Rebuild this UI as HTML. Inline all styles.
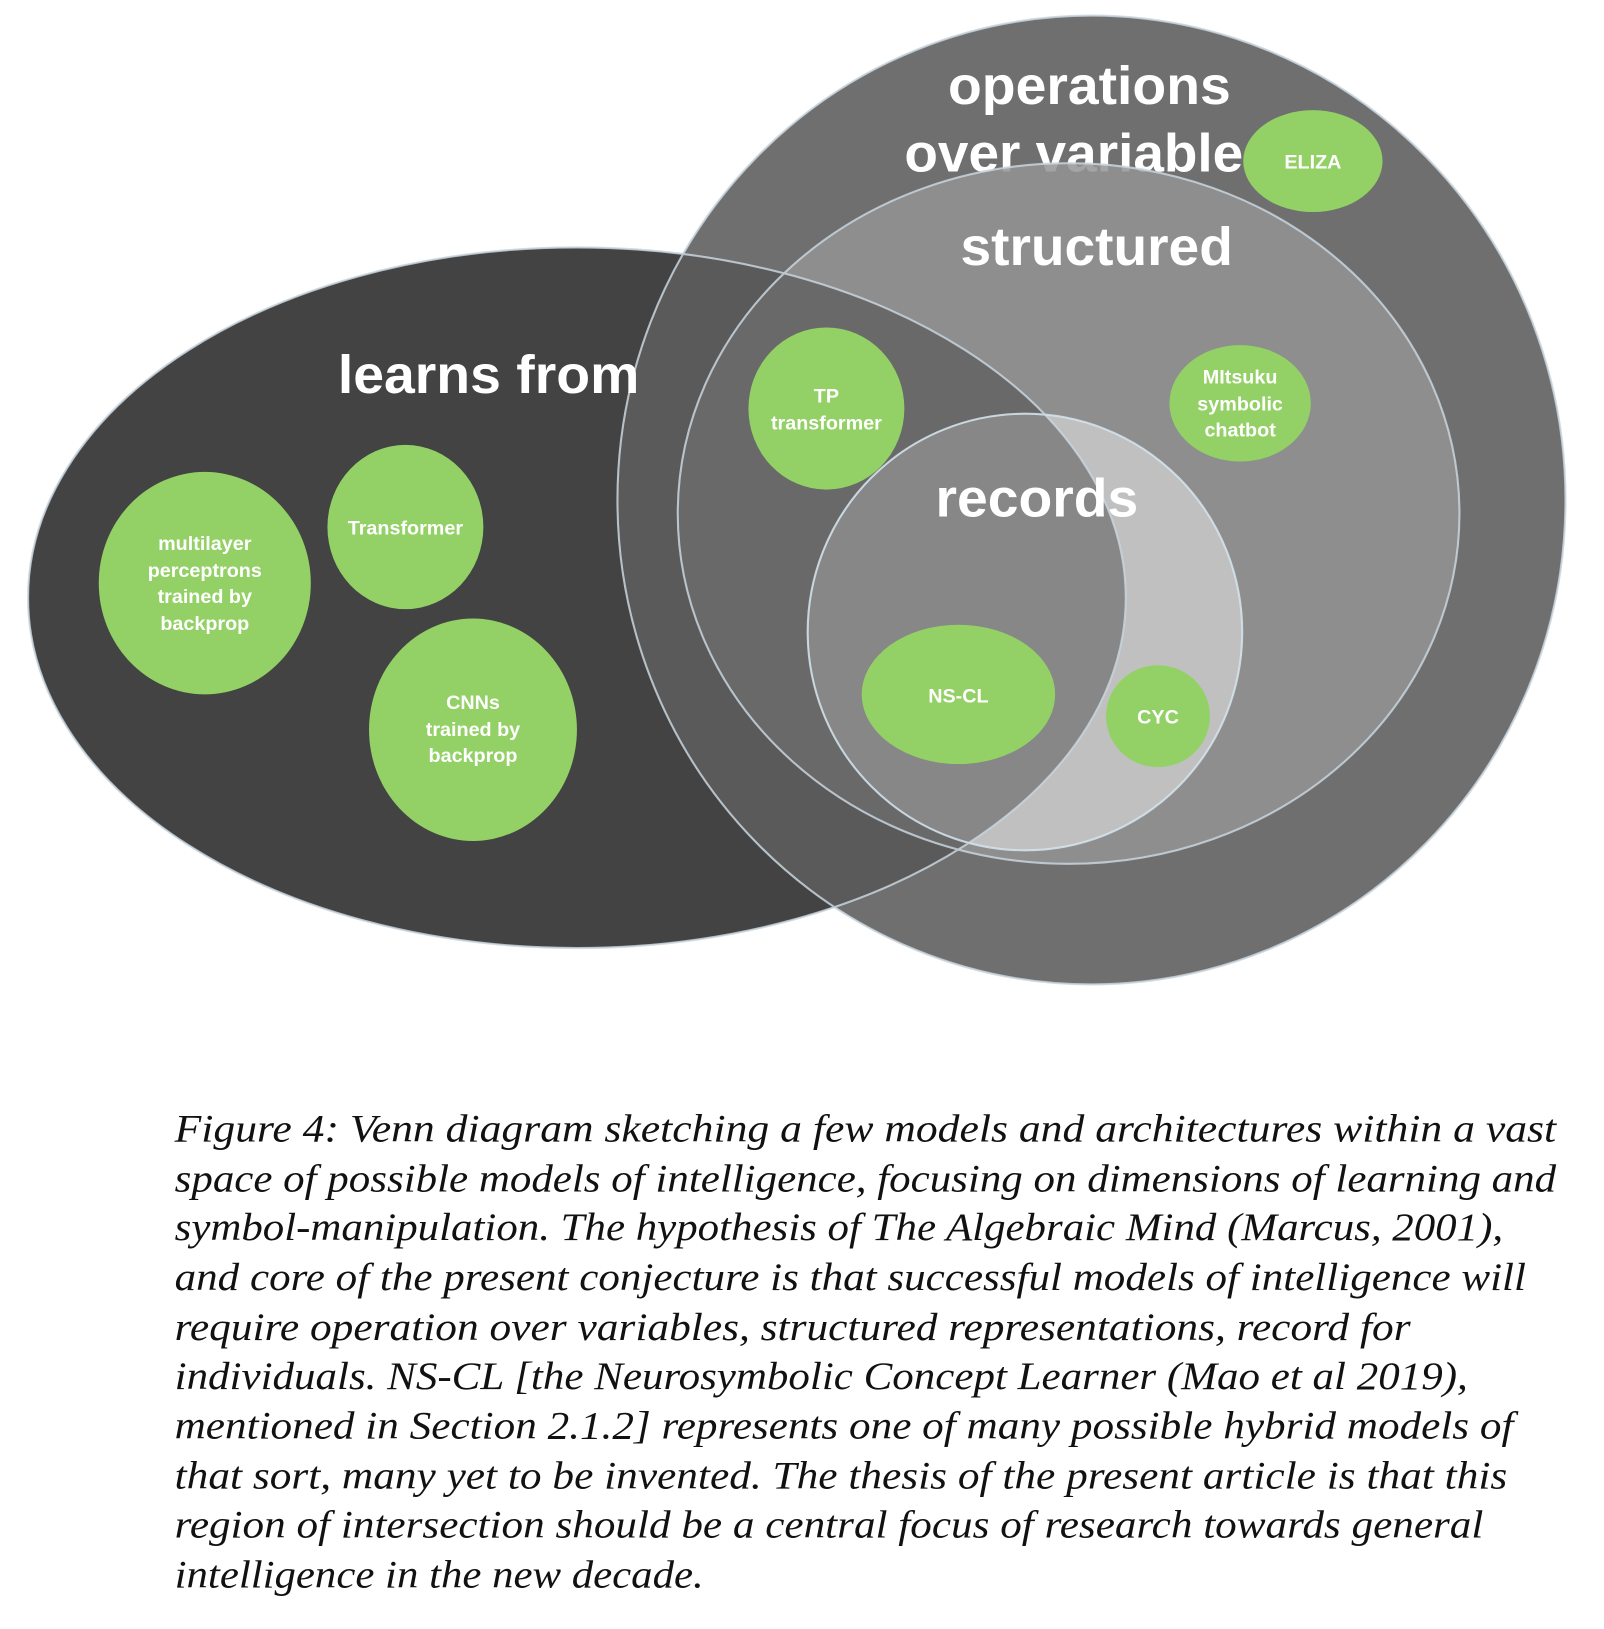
<!DOCTYPE html>
<html><head><meta charset="utf-8"><style>
html,body{margin:0;padding:0;background:#fff;}
svg{display:block;}
.big{font-family:"Liberation Sans",sans-serif;font-weight:bold;fill:#fff;font-size:52px;}
.sm{font-family:"Liberation Sans",sans-serif;font-weight:bold;fill:#fff;font-size:19px;text-anchor:middle;}
.cap{font-family:"Liberation Serif",serif;font-style:italic;fill:#111;font-size:38px;}
</style></head><body>
<svg width="1604" height="1629" viewBox="0 0 1604 1629" xmlns="http://www.w3.org/2000/svg">
<defs>
<clipPath id="L"><ellipse cx="555" cy="575" rx="528" ry="337"/></clipPath>
</defs>
<g transform="scale(1.0395)">
<ellipse cx="555" cy="575" rx="528" ry="337" fill="#434343"/>
<ellipse cx="1050" cy="481" rx="456" ry="466" fill="#6f6f6f"/>
<g clip-path="url(#L)"><ellipse cx="1050" cy="481" rx="456" ry="466" fill="#5a5a5a"/></g>
<text class="big" x="1048" y="100" text-anchor="middle" textLength="272" lengthAdjust="spacingAndGlyphs">operations</text>
<text class="big" x="870" y="165" textLength="326" lengthAdjust="spacingAndGlyphs">over variable</text>
<ellipse cx="1028" cy="494" rx="376" ry="337" fill="#949494" fill-opacity="0.85"/>
<g clip-path="url(#L)"><ellipse cx="1028" cy="494" rx="376" ry="337" fill="#696969"/></g>
<ellipse cx="986" cy="608" rx="209" ry="210" fill="#c0c0c0"/>
<g clip-path="url(#L)"><ellipse cx="986" cy="608" rx="209" ry="210" fill="#878787"/></g>
<g fill="none" stroke="#c9d5de" stroke-width="2" opacity="0.85">
<ellipse cx="555" cy="575" rx="528" ry="337"/>
<ellipse cx="1050" cy="481" rx="456" ry="466"/>
<ellipse cx="1028" cy="494" rx="376" ry="337"/>
<ellipse cx="986" cy="608" rx="209" ry="210" stroke="#d6e6f0"/>
</g>
<text class="big" x="1055" y="255" text-anchor="middle" textLength="262" lengthAdjust="spacingAndGlyphs">structured</text>
<text class="big" x="325" y="378" textLength="290" lengthAdjust="spacingAndGlyphs">learns from</text>
<text class="big" x="900" y="497" textLength="195" lengthAdjust="spacingAndGlyphs">records</text>
<g fill="#93d166">
<ellipse cx="1263" cy="155" rx="67" ry="49"/>
<ellipse cx="795" cy="393" rx="75" ry="78"/>
<ellipse cx="1193" cy="388" rx="68" ry="56"/>
<ellipse cx="922" cy="668" rx="93" ry="67"/>
<ellipse cx="1114" cy="689" rx="50" ry="49"/>
<ellipse cx="197" cy="561" rx="102" ry="107"/>
<ellipse cx="390" cy="507" rx="75" ry="79"/>
<ellipse cx="455" cy="702" rx="100" ry="107"/>
</g>
<text class="sm" x="1263" y="162">ELIZA</text>
<text class="sm" x="795" y="387">TP</text>
<text class="sm" x="795" y="413">transformer</text>
<text class="sm" x="1193" y="369">MItsuku</text>
<text class="sm" x="1193" y="395">symbolic</text>
<text class="sm" x="1193" y="420">chatbot</text>
<text class="sm" x="922" y="676">NS-CL</text>
<text class="sm" x="1114" y="696">CYC</text>
<text class="sm" x="197" y="529">multilayer</text>
<text class="sm" x="197" y="555">perceptrons</text>
<text class="sm" x="197" y="580">trained by</text>
<text class="sm" x="197" y="606">backprop</text>
<text class="sm" x="390" y="514">Transformer</text>
<text class="sm" x="455" y="682">CNNs</text>
<text class="sm" x="455" y="708">trained by</text>
<text class="sm" x="455" y="733">backprop</text>
<g class="cap">
<text x="168" y="1098" textLength="1329" lengthAdjust="spacingAndGlyphs">Figure 4: Venn diagram sketching a few models and architectures within a  vast</text>
<text x="168" y="1146" textLength="1329" lengthAdjust="spacingAndGlyphs">space of possible models of intelligence, focusing on dimensions of learning and</text>
<text x="168" y="1193" textLength="1278" lengthAdjust="spacingAndGlyphs">symbol-manipulation. The hypothesis of The Algebraic Mind (Marcus, 2001),</text>
<text x="168" y="1241" textLength="1300" lengthAdjust="spacingAndGlyphs">and core of the present conjecture is that successful models of intelligence will</text>
<text x="168" y="1289" textLength="1189" lengthAdjust="spacingAndGlyphs">require operation over variables, structured representations, record for</text>
<text x="168" y="1336" textLength="1244" lengthAdjust="spacingAndGlyphs">individuals. NS-CL [the Neurosymbolic Concept Learner (Mao et al 2019),</text>
<text x="168" y="1384" textLength="1288" lengthAdjust="spacingAndGlyphs">mentioned in Section 2.1.2] represents one of many possible hybrid models of</text>
<text x="168" y="1432" textLength="1282" lengthAdjust="spacingAndGlyphs">that sort, many yet to be invented.  The thesis of the present article is that this</text>
<text x="168" y="1479" textLength="1259" lengthAdjust="spacingAndGlyphs">region of intersection should be a central focus of research towards general</text>
<text x="168" y="1527" textLength="509" lengthAdjust="spacingAndGlyphs">intelligence in the new decade.</text>
</g>
</g>
</svg>
</body></html>
